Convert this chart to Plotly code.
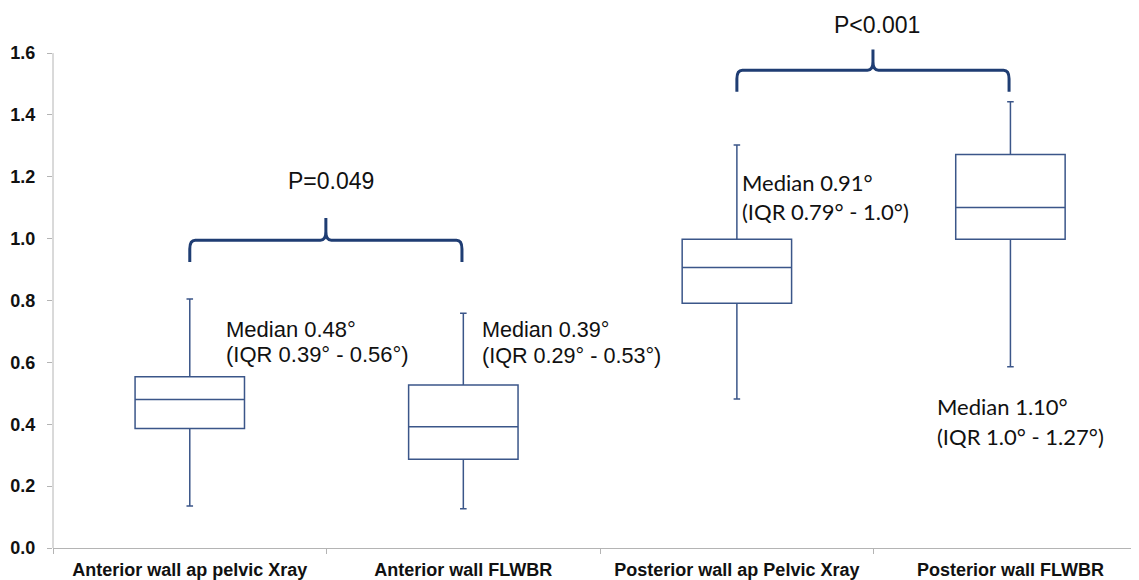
import plotly.graph_objects as go

categories = ["Anterior wall ap pelvic Xray", "Anterior wall FLWBR",
              "Posterior wall ap Pelvic Xray", "Posterior wall FLWBR"]
lower_whisker = [0.136, 0.127, 0.482, 0.586]
q1_values = [0.386, 0.287, 0.791, 0.998]
median_values = [0.480, 0.392, 0.907, 1.101]
q3_values = [0.554, 0.527, 0.998, 1.272]
upper_whisker = [0.805, 0.759, 1.303, 1.443]

y_tick_values = [0.0, 0.2, 0.4, 0.6, 0.8, 1.0, 1.2, 1.4, 1.6]

median_lines = ["Median 0.48°", "Median 0.39°", "Median 0.91°", "Median 1.10°"]
iqr_lines = ["(IQR 0.39° - 0.56°)", "(IQR 0.29° - 0.53°)",
             "(IQR 0.79° - 1.0°)", "(IQR 1.0° - 1.27°)"]
comparisons = [  # (left index, right index, p-value text)
    (0, 1, "P=0.049"),
    (2, 3, "P<0.001"),
]

BOX_COLOR = "#3B5689"
BRACE_COLOR = "#1F3D73"
AXIS_GREY = "#B4B4B4"

fig = go.Figure()
fig.add_trace(go.Box(
    x=categories,
    lowerfence=lower_whisker,
    q1=q1_values,
    median=median_values,
    q3=q3_values,
    upperfence=upper_whisker,
    width=0.4,
    whiskerwidth=0.06,
    fillcolor="white",
    line=dict(color=BOX_COLOR, width=1.5),
    boxpoints=False,
    hoverinfo="skip",
    showlegend=False,
))

# median / IQR text placement (x in category units, y of each line)
label_pos = [(0.124, 0.705, 0.627, "Liberation Sans, Arial", 22),
             (1.060, 0.708, 0.624, "Liberation Sans, Arial", 21.6),
             (2.011, 1.183, 1.089, "Lato, sans-serif", 22),
             (2.724, 0.456, 0.362, "Lato, sans-serif", 22)]
for l1, l2, (ax, ay1, ay2, fam, sz) in zip(median_lines, iqr_lines, label_pos):
    for txt, ay in ((l1, ay1), (l2, ay2)):
        fig.add_annotation(x=ax, y=ay, xref="x", yref="y", text=txt, showarrow=False,
                           xanchor="left", yanchor="middle", align="left",
                           font=dict(family=fam, size=sz, color="#111111"))

# curly braces above the compared pairs
def brace_path(x0, x1, y_end, y_bar, y_peak, rx=0.02, ry=0.028):
    c = (x0 + x1) / 2
    return (f"M {x0},{y_end} L {x0},{y_bar - ry} Q {x0},{y_bar} {x0 + rx},{y_bar} "
            f"L {c - rx},{y_bar} Q {c},{y_bar} {c},{y_bar + ry} L {c},{y_peak} "
            f"L {c},{y_bar + ry} Q {c},{y_bar} {c + rx},{y_bar} "
            f"L {x1 - rx},{y_bar} Q {x1},{y_bar} {x1},{y_bar - ry} L {x1},{y_end}")

brace_geom = [(0.925, 0.995, 1.067, 1.186, 0.018), (1.475, 1.545, 1.612, 1.690, 0.012)]
for (i0, i1, ptxt), (y_end, y_bar, y_peak, y_txt, dx) in zip(comparisons, brace_geom):
    fig.add_shape(type="path", xref="x", yref="y",
                  path=brace_path(i0, i1 - 0.005, y_end, y_bar, y_peak),
                  line=dict(color=BRACE_COLOR, width=3), fillcolor="rgba(0,0,0,0)")
    fig.add_annotation(x=(i0 + i1) / 2 + dx, y=y_txt, xref="x", yref="y", text=ptxt,
                       showarrow=False, xanchor="center", yanchor="middle",
                       font=dict(family="Liberation Sans, Arial", size=23, color="#111111"))

# y-axis line only up to the top tick
fig.add_shape(type="line", xref="paper", yref="y", x0=0, x1=0, y0=0, y1=y_tick_values[-1],
              line=dict(color=AXIS_GREY, width=1))

fig.update_layout(
    width=1139, height=580,
    margin=dict(l=45, r=8, t=8, b=40),
    plot_bgcolor="white", paper_bgcolor="white",
    xaxis=dict(type="category", range=[-0.5, 3.47], showline=True, linecolor=AXIS_GREY,
               linewidth=1, ticks="outside", tickson="boundaries", ticklen=5,
               tickcolor=AXIS_GREY, showgrid=False, zeroline=False, automargin=False,
               ticklabelstandoff=5,
               tickfont=dict(family="Liberation Sans, Arial", size=18, color="#111111",
                             weight="bold")),
    yaxis=dict(range=[0, 1.72], tickvals=y_tick_values, tickformat=".1f",
               showline=False, ticks="outside", ticklen=5, tickcolor=AXIS_GREY,
               ticklabelstandoff=8, showgrid=False, zeroline=False, automargin=False,
               tickfont=dict(family="Liberation Sans, Arial", size=18, color="#111111",
                             weight="bold")),
)

fig.write_html("out.html")
